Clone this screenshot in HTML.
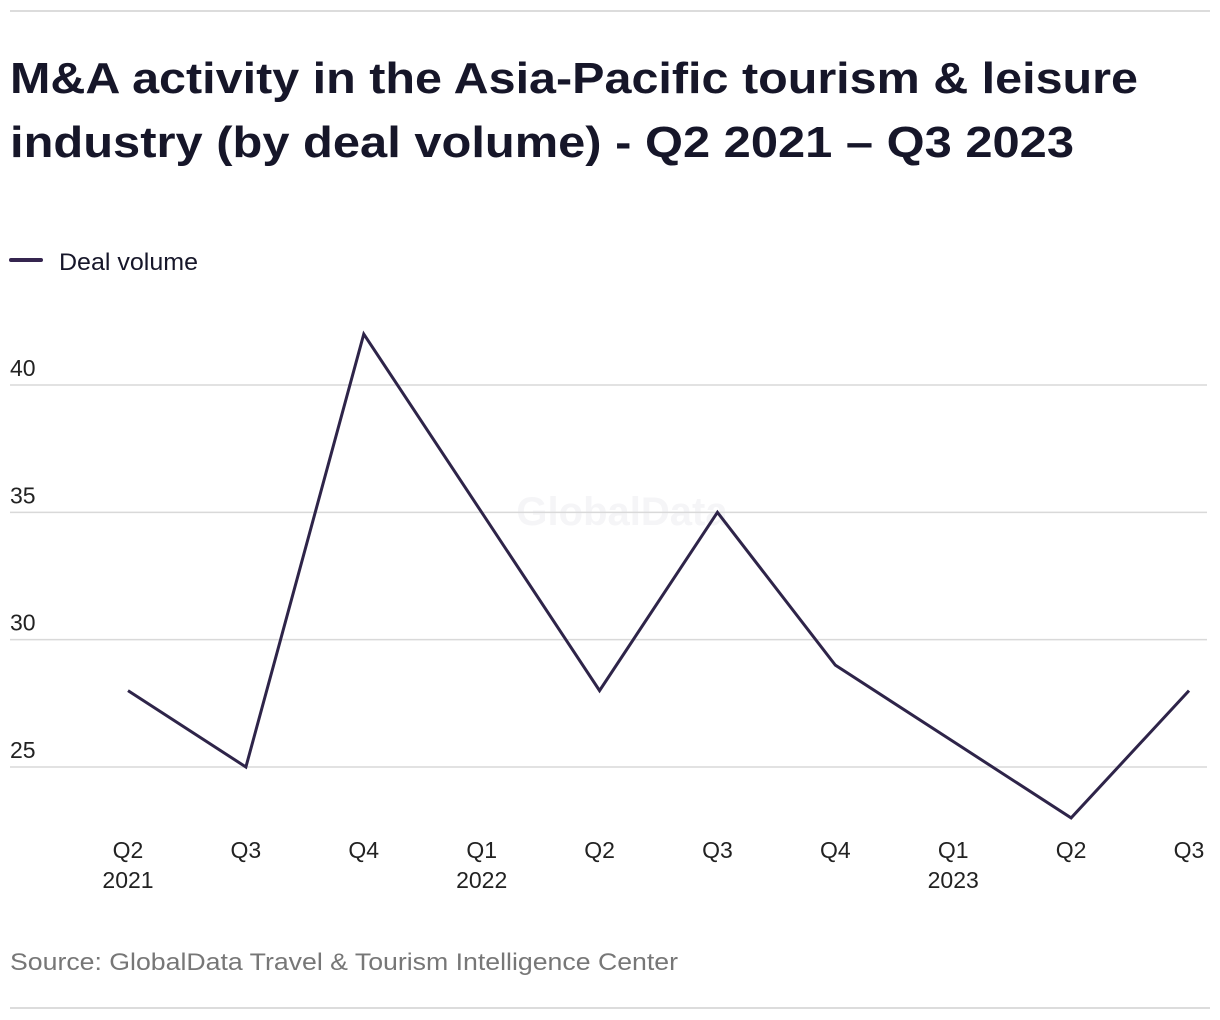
<!DOCTYPE html>
<html><head><meta charset="utf-8"><style>
html,body{margin:0;padding:0;background:#fff;}
svg{display:block;font-family:"Liberation Sans",sans-serif;}
</style></head><body>
<svg id="chart" width="1220" height="1020" viewBox="0 0 1220 1020">
<line x1="10" y1="11" x2="1210" y2="11" stroke="#dcdcdc" stroke-width="2"/>
<text x="10" y="93" font-size="44" font-weight="bold" fill="#161629" textLength="1128" lengthAdjust="spacingAndGlyphs">M&amp;A activity in the Asia-Pacific tourism &amp; leisure</text>
<text x="10" y="157" font-size="44" font-weight="bold" fill="#161629" textLength="1064" lengthAdjust="spacingAndGlyphs">industry (by deal volume) - Q2 2021 – Q3 2023</text>
<g>
<line x1="11" y1="260" x2="41" y2="260" stroke="#35254f" stroke-width="4" stroke-linecap="round"/>
<text x="59" y="270" font-size="24" fill="#161629" textLength="139" lengthAdjust="spacingAndGlyphs">Deal volume</text>
</g>
<text x="622" y="525" font-size="40" font-weight="bold" fill="#f5f5f7" text-anchor="middle">GlobalData</text>
<g id="grid"></g>
<g id="xaxis"></g>
<path id="line" fill="none" stroke="#2e2449" stroke-width="3" stroke-linejoin="miter"/>
<text x="10" y="970" font-size="24" fill="#777" textLength="668" lengthAdjust="spacingAndGlyphs">Source: GlobalData Travel &amp; Tourism Intelligence Center</text>
<line x1="10" y1="1008" x2="1210" y2="1008" stroke="#dcdcdc" stroke-width="2"/>
</svg>
<script>
const quarters = ["Q2","Q3","Q4","Q1","Q2","Q3","Q4","Q1","Q2","Q3"];
const years = ["2021","","","2022","","","","2023","",""];
const dealVolume = [28,25,42,35,28,35,29,26,23,28];
const yTicks = [25,30,35,40];

const NS="http://www.w3.org/2000/svg";
const x0=128, x1=1189;
function xScale(i){return x0+(x1-x0)*i/(quarters.length-1);}
function yScale(v){return 767-(v-25)*(767-385)/15;}
const grid=document.getElementById('grid');
yTicks.forEach(t=>{
  const l=document.createElementNS(NS,'line');
  l.setAttribute('x1',10);l.setAttribute('x2',1207);
  l.setAttribute('y1',yScale(t));l.setAttribute('y2',yScale(t));
  l.setAttribute('stroke','#d9d9d9');l.setAttribute('stroke-width','1.5');
  
  
  grid.appendChild(l);
  const tx=document.createElementNS(NS,'text');
  tx.setAttribute('x',10);tx.setAttribute('y',yScale(t)-9);
  tx.setAttribute('font-size','23');tx.setAttribute('fill','#222');
  tx.textContent=t;
  
  
  grid.appendChild(tx);
});
const xa=document.getElementById('xaxis');
quarters.forEach((q,i)=>{
  const tx=document.createElementNS(NS,'text');
  tx.setAttribute('x',xScale(i));tx.setAttribute('y',858);
  tx.setAttribute('font-size','23');tx.setAttribute('fill','#222');
  tx.setAttribute('text-anchor','middle');
  tx.textContent=q;
  
  
  xa.appendChild(tx);
  if(years[i]){
    const ty=document.createElementNS(NS,'text');
    ty.setAttribute('x',xScale(i));ty.setAttribute('y',888);
    ty.setAttribute('font-size','23');ty.setAttribute('fill','#222');
    ty.setAttribute('text-anchor','middle');
    ty.textContent=years[i];
    
    
    xa.appendChild(ty);
  }
});
document.getElementById('line').setAttribute('d',dealVolume.map((v,i)=>(i?'L':'M')+xScale(i)+','+yScale(v)).join(' '));
</script>
</body></html>
